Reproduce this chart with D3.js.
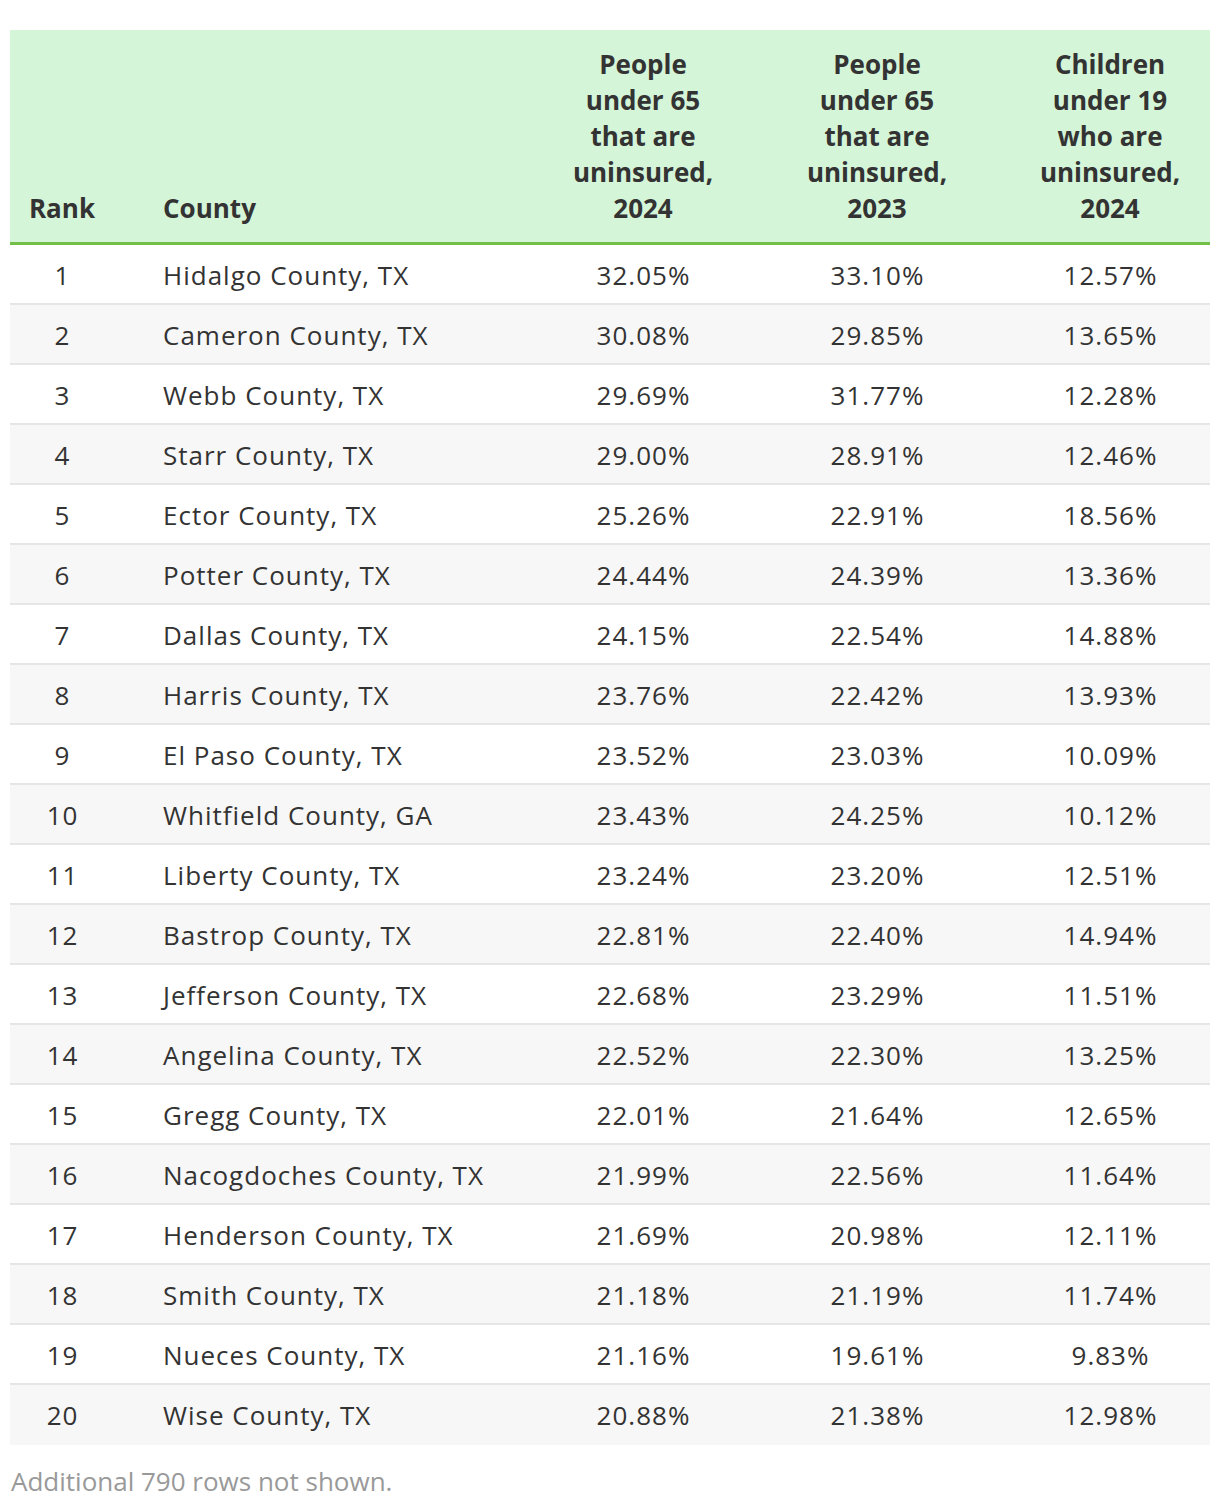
<!DOCTYPE html>
<html><head><meta charset="utf-8">
<script src="https://cdn.jsdelivr.net/npm/d3@7"></script>
<style>
html,body{margin:0;padding:0;background:#fff;}
svg{display:block;font-family:"Open Sans",sans-serif;}
</style></head>
<body><svg id="chart" width="1220" height="1510"></svg>
<script>
const ranks = [1,2,3,4,5,6,7,8,9,10,11,12,13,14,15,16,17,18,19,20];
const counties = ["Hidalgo County, TX","Cameron County, TX","Webb County, TX","Starr County, TX","Ector County, TX","Potter County, TX","Dallas County, TX","Harris County, TX","El Paso County, TX","Whitfield County, GA","Liberty County, TX","Bastrop County, TX","Jefferson County, TX","Angelina County, TX","Gregg County, TX","Nacogdoches County, TX","Henderson County, TX","Smith County, TX","Nueces County, TX","Wise County, TX"];
const uninsured2024 = [32.05,30.08,29.69,29.00,25.26,24.44,24.15,23.76,23.52,23.43,23.24,22.81,22.68,22.52,22.01,21.99,21.69,21.18,21.16,20.88];
const uninsured2023 = [33.10,29.85,31.77,28.91,22.91,24.39,22.54,22.42,23.03,24.25,23.20,22.40,23.29,22.30,21.64,22.56,20.98,21.19,19.61,21.38];
const children2024 = [12.57,13.65,12.28,12.46,18.56,13.36,14.88,13.93,10.09,10.12,12.51,14.94,11.51,13.25,12.65,11.64,12.11,11.74,9.83,12.98];
const headers = [
  ["Rank"],
  ["County"],
  ["People","under 65","that are","uninsured,","2024"],
  ["People","under 65","that are","uninsured,","2023"],
  ["Children","under 19","who are","uninsured,","2024"]
];
const footnote = "Additional 790 rows not shown.";

const svg = d3.select("#chart");
const left = 10, right = 1210, headTop = 30, headBottom = 242, lineW = 3;
const bodyTop = headBottom + lineW;
const rowH = 60;

const y = d3.scaleBand().domain(ranks).range([bodyTop, bodyTop + rowH * ranks.length]).paddingInner(0);
const colX = [62, 163, 643, 877, 1110];
const colAnchor = ["middle","start","middle","middle","middle"];

svg.append("rect").attr("x", left).attr("y", headTop).attr("width", right-left).attr("height", headBottom-headTop).attr("fill", "#d5f5d8");
svg.append("rect").attr("x", left).attr("y", headBottom).attr("width", right-left).attr("height", lineW).attr("fill", "#72c045");

const lh = 36;
headers.forEach((lines, i) => {
  const n = lines.length;
  lines.forEach((t, j) => {
    svg.append("text")
      .attr("x", colX[i])
      .attr("y", 218 - (n - 1 - j) * lh)
      .attr("text-anchor", colAnchor[i])
      .attr("font-size", 26).attr("font-weight", 700)
      .attr("fill", "#333333")
      .text(t);
  });
});

const rows = svg.append("g").selectAll("g").data(ranks).join("g")
  .attr("transform", d => `translate(0,${y(d)})`);
rows.append("rect").attr("x", left).attr("y", 0).attr("width", right-left).attr("height", rowH)
  .attr("fill", (d,i) => i % 2 === 1 ? "#f7f7f7" : "#ffffff");
rows.filter((d,i) => i < ranks.length - 1).append("rect")
  .attr("x", left).attr("y", rowH - 2).attr("width", right-left).attr("height", 2).attr("fill", "#e6e6e6");

const fmt = v => d3.format(".2f")(v) + "%";
rows.each(function(d, i) {
  const vals = [String(d), counties[i], fmt(uninsured2024[i]), fmt(uninsured2023[i]), fmt(children2024[i])];
  const g = d3.select(this);
  vals.forEach((v, k) => {
    g.append("text")
      .attr("x", colAnchor[k] === "middle" ? colX[k] + 0.5 : colX[k]).attr("y", 40)
      .attr("text-anchor", colAnchor[k])
      .attr("font-size", 26).attr("fill", "#333333")
      .attr("letter-spacing", "1px")
      .text(v);
  });
});

svg.append("text").attr("x", 11).attr("y", 1491)
  .attr("font-size", 26).attr("fill", "#999999").text(footnote);
</script></body></html>
